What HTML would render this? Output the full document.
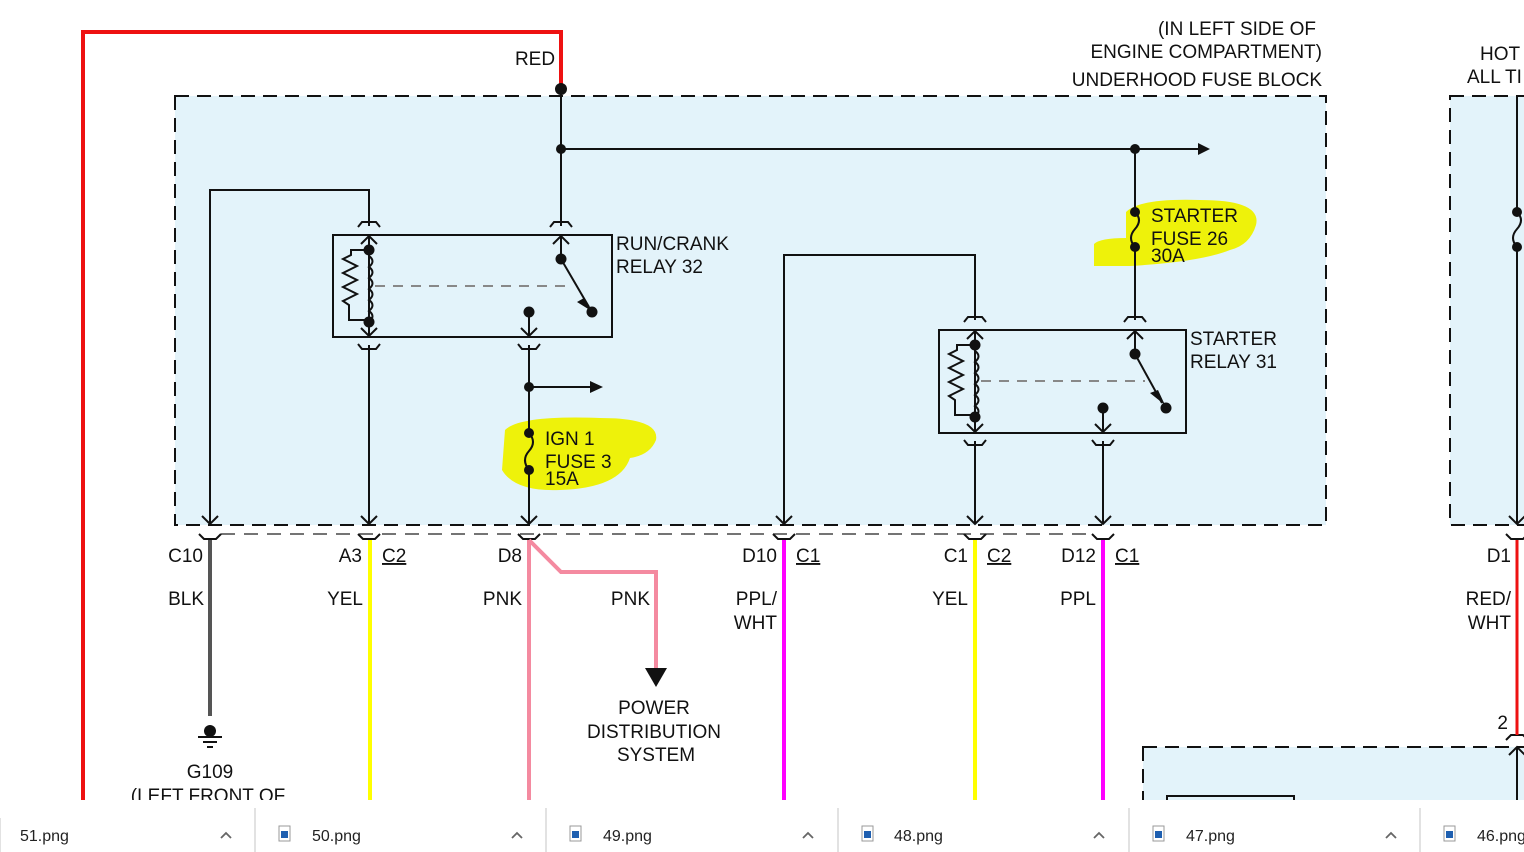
<!DOCTYPE html>
<html><head><meta charset="utf-8"><style>
html,body{margin:0;padding:0;background:#fff;width:1524px;height:852px;overflow:hidden}
svg{display:block}
text{font-family:"Liberation Sans",Arial,sans-serif;font-size:19px;fill:#111}
.tab{font-size:16px;fill:#222}
</style></head><body>
<svg width="1524" height="852" viewBox="0 0 1524 852" xmlns="http://www.w3.org/2000/svg">
<defs>
<clipPath id="cl"><rect x="0" y="0" width="1524" height="800"/></clipPath>
</defs>
<g clip-path="url(#cl)">
<rect x="175" y="96" width="1151" height="429" fill="#e3f3fa" stroke="#111" stroke-width="2" stroke-dasharray="14,8"/>
<rect x="1450" y="96" width="90" height="429" fill="#e3f3fa" stroke="#111" stroke-width="2" stroke-dasharray="14,8"/>
<rect x="1143" y="747" width="400" height="80" fill="#e3f3fa" stroke="#111" stroke-width="2" stroke-dasharray="14,8"/>
<rect x="1167" y="796" width="127" height="30" fill="none" stroke="#111" stroke-width="2"/>

<path d="M505,430 Q520,415 600,418 Q660,418 656,440 Q650,455 630,458 Q620,488 560,490 Q515,492 502,470 Z" fill="#eef20a"/>
<path d="M1126,212 Q1140,198 1200,200 Q1262,200 1256,225 Q1250,245 1230,250 Q1200,262 1130,266 L1094,266 L1094,244 Q1100,238 1126,238 Z" fill="#eef20a"/>

<polyline points="83,800 83,32 561,32 561,89" fill="none" stroke="#ee1111" stroke-width="4"/>
<g stroke="#111" stroke-width="2" fill="none">
<line x1="561" y1="89" x2="561" y2="226"/>
<line x1="561" y1="149" x2="1200" y2="149"/>
<line x1="1135" y1="149" x2="1135" y2="212"/>
<path d="M1135,212 q8,8 0,17 q-8,9 0,18"/>
<line x1="1135" y1="247" x2="1135" y2="320"/>
<polyline points="210,524 210,190 369,190 369,226"/>
<line x1="369" y1="345" x2="369" y2="524"/>
<line x1="529" y1="345" x2="529" y2="433"/>
<path d="M529,433 q8,9 0,18 q-8,9 0,19"/>
<line x1="529" y1="470" x2="529" y2="524"/>
<line x1="529" y1="387" x2="595" y2="387"/>
<polyline points="784,524 784,255 975,255 975,320"/>
<line x1="975" y1="441" x2="975" y2="524"/>
<line x1="1103" y1="441" x2="1103" y2="524"/>
<line x1="1517" y1="96" x2="1517" y2="212"/>
<path d="M1517,212 q8,8 0,17 q-8,9 0,18"/>
<line x1="1517" y1="247" x2="1517" y2="524"/>
<line x1="1517" y1="747" x2="1517" y2="800"/>

<rect x="333" y="235" width="279" height="102"/>
<rect x="939" y="330" width="247" height="103"/>

<path d="M358,227 l4,-5 h14 l4,5 M550,227 l4,-5 h14 l4,5 M964,322 l4,-5 h14 l4,5 M1124,322 l4,-5 h14 l4,5"/>
<path d="M358,344 l4,5 h14 l4,-5 M518,344 l4,5 h14 l4,-5 M964,440 l4,5 h14 l4,-5 M1092,440 l4,5 h14 l4,-5"/>
<line x1="369" y1="236" x2="369" y2="336"/>
<path d="M361,244 l8,-8 l8,8 M361,328 l8,8 l8,-8"/>
<path d="M369,250 h-18 v5 l-8,4 l14,7 l-14,7 l14,7 l-14,7 l14,7 l-14,7 l6,4 v15 h20"/>
<path d="M369,256 q7,5 0,11 q7,5 0,11 q7,5 0,11 q7,5 0,11 q7,5 0,11 q7,5 0,11"/>
<line x1="561" y1="236" x2="561" y2="259"/>
<path d="M553,244 l8,-8 l8,8"/>
<line x1="561" y1="259" x2="589" y2="307"/>
<line x1="529" y1="312" x2="529" y2="336"/>
<path d="M521,328 l8,8 l8,-8"/>
<line x1="375" y1="286" x2="570" y2="286" stroke="#888" stroke-dasharray="10,8"/>
<line x1="975" y1="331" x2="975" y2="432"/>
<path d="M967,339 l8,-8 l8,8 M967,424 l8,8 l8,-8"/>
<path d="M975,345 h-18 v5 l-8,4 l14,7 l-14,7 l14,7 l-14,7 l14,7 l-14,7 l6,4 v15 h20"/>
<path d="M975,351 q7,5 0,11 q7,5 0,11 q7,5 0,11 q7,5 0,11 q7,5 0,11 q7,5 0,11"/>
<line x1="1135" y1="331" x2="1135" y2="354"/>
<path d="M1127,339 l8,-8 l8,8"/>
<line x1="1135" y1="354" x2="1162" y2="403"/>
<line x1="1103" y1="408" x2="1103" y2="432"/>
<path d="M1095,424 l8,8 l8,-8"/>
<line x1="981" y1="381" x2="1145" y2="381" stroke="#888" stroke-dasharray="10,8"/>

<path d="M202,516 l8,8 l8,-8 M361,516 l8,8 l8,-8 M521,516 l8,8 l8,-8 M776,516 l8,8 l8,-8 M967,516 l8,8 l8,-8 M1095,516 l8,8 l8,-8 M1509,516 l8,8 l8,-8"/>
<path d="M199,534 l5,5 h12 l5,-5 M358,534 l5,5 h12 l5,-5 M518,534 l5,5 h12 l5,-5 M773,534 l5,5 h12 l5,-5 M964,534 l5,5 h12 l5,-5 M1092,534 l5,5 h12 l5,-5 M1506,534 l5,5 h12 l5,-5"/>
<line x1="221" y1="534" x2="1092" y2="534" stroke="#222" stroke-width="1.3" stroke-dasharray="14,9"/>
<path d="M1506,740 l5,-5 h12 l5,5"/>
<path d="M1509,755 l8,-8 l8,8"/>
</g>
<path d="M1198,143 L1210,149 L1198,155 Z M590,381 L603,387 L590,393 Z" fill="#111"/>
<path d="M577,302 L593,312 L584,298 Z M1150,393 L1165,405 L1158,390 Z" fill="#111"/>
<g fill="#111">
<circle cx="561" cy="89" r="6"/><circle cx="561" cy="149" r="5"/><circle cx="1135" cy="149" r="5"/>
<circle cx="1135" cy="212" r="5"/><circle cx="1135" cy="247" r="5"/>
<circle cx="529" cy="387" r="5"/><circle cx="529" cy="433" r="5"/><circle cx="529" cy="470" r="5"/>
<circle cx="1517" cy="212" r="5"/><circle cx="1517" cy="247" r="5"/>
<circle cx="369" cy="250" r="5.5"/><circle cx="369" cy="322" r="5.5"/><circle cx="561" cy="259" r="5.5"/><circle cx="592" cy="312" r="5.5"/><circle cx="529" cy="312" r="5.5"/>
<circle cx="975" cy="345" r="5.5"/><circle cx="975" cy="417" r="5.5"/><circle cx="1135" cy="354" r="5.5"/><circle cx="1166" cy="408" r="5.5"/><circle cx="1103" cy="408" r="5.5"/>
</g>
<line x1="210" y1="540" x2="210" y2="716" stroke="#555" stroke-width="4"/>
<line x1="370" y1="540" x2="370" y2="800" stroke="#ffff00" stroke-width="4"/>
<line x1="529" y1="540" x2="529" y2="800" stroke="#f48aa0" stroke-width="4"/>
<polyline points="529,540 561,572 656,572 656,672" fill="none" stroke="#f48aa0" stroke-width="4"/>
<path d="M645,668 L667,668 L656,687 Z" fill="#111"/>
<line x1="784" y1="540" x2="784" y2="800" stroke="#ff00ff" stroke-width="4"/>
<line x1="975" y1="540" x2="975" y2="800" stroke="#ffff00" stroke-width="4"/>
<line x1="1103" y1="540" x2="1103" y2="800" stroke="#ff00ff" stroke-width="4"/>
<line x1="1517" y1="540" x2="1517" y2="735" stroke="#ee1111" stroke-width="3"/>
<circle cx="210" cy="731" r="6" fill="#111"/>
<g stroke="#111" stroke-width="2"><line x1="198" y1="737" x2="222" y2="737"/><line x1="203" y1="742" x2="217" y2="742"/><line x1="207" y1="747" x2="213" y2="747"/></g>

<text x="535" y="65" text-anchor="middle">RED</text>
<text x="1316" y="35" text-anchor="end">(IN LEFT SIDE OF</text>
<text x="1322" y="58" text-anchor="end">ENGINE COMPARTMENT)</text>
<text x="1322" y="86" text-anchor="end">UNDERHOOD FUSE BLOCK</text>
<text x="1480" y="60">HOT</text>
<text x="1467" y="83">ALL TI</text>
<text x="616" y="250">RUN/CRANK</text>
<text x="616" y="273">RELAY 32</text>
<text x="1190" y="345">STARTER</text>
<text x="1190" y="368">RELAY 31</text>
<text x="1151" y="222">STARTER</text>
<text x="1151" y="245">FUSE 26</text>
<text x="1151" y="262">30A</text>
<text x="545" y="445">IGN 1</text>
<text x="545" y="468">FUSE 3</text>
<text x="545" y="485">15A</text>
<text x="203" y="562" text-anchor="end">C10</text>
<text x="362" y="562" text-anchor="end">A3</text>
<text x="382" y="562" text-decoration="underline">C2</text>
<text x="522" y="562" text-anchor="end">D8</text>
<text x="777" y="562" text-anchor="end">D10</text>
<text x="796" y="562" text-decoration="underline">C1</text>
<text x="968" y="562" text-anchor="end">C1</text>
<text x="987" y="562" text-decoration="underline">C2</text>
<text x="1096" y="562" text-anchor="end">D12</text>
<text x="1115" y="562" text-decoration="underline">C1</text>
<text x="1511" y="562" text-anchor="end">D1</text>
<text x="204" y="605" text-anchor="end">BLK</text>
<text x="363" y="605" text-anchor="end">YEL</text>
<text x="522" y="605" text-anchor="end">PNK</text>
<text x="650" y="605" text-anchor="end">PNK</text>
<text x="777" y="605" text-anchor="end">PPL/</text>
<text x="777" y="629" text-anchor="end">WHT</text>
<text x="968" y="605" text-anchor="end">YEL</text>
<text x="1096" y="605" text-anchor="end">PPL</text>
<text x="1511" y="605" text-anchor="end">RED/</text>
<text x="1511" y="629" text-anchor="end">WHT</text>
<text x="1508" y="729" text-anchor="end">2</text>
<text x="654" y="714" text-anchor="middle">POWER</text>
<text x="654" y="738" text-anchor="middle">DISTRIBUTION</text>
<text x="656" y="761" text-anchor="middle">SYSTEM</text>
<text x="210" y="778" text-anchor="middle">G109</text>
<text x="208" y="802" text-anchor="middle">(LEFT FRONT OF</text>
</g>

<rect x="0" y="800" width="1524" height="52" fill="#fff"/>
<g stroke="#d8d8d8" stroke-width="1.5">
<line x1="0" y1="818" x2="0" y2="852"/><line x1="255" y1="808" x2="255" y2="852"/><line x1="546" y1="808" x2="546" y2="852"/><line x1="838" y1="808" x2="838" y2="852"/><line x1="1129" y1="808" x2="1129" y2="852"/><line x1="1420" y1="808" x2="1420" y2="852"/>
</g>
<g>
<g transform="translate(279,826)"><rect x="0" y="0" width="11" height="15" fill="#fff" stroke="#999"/><rect x="2" y="5" width="7" height="7" fill="#1e5fb0"/></g>
<g transform="translate(570,826)"><rect x="0" y="0" width="11" height="15" fill="#fff" stroke="#999"/><rect x="2" y="5" width="7" height="7" fill="#1e5fb0"/></g>
<g transform="translate(862,826)"><rect x="0" y="0" width="11" height="15" fill="#fff" stroke="#999"/><rect x="2" y="5" width="7" height="7" fill="#1e5fb0"/></g>
<g transform="translate(1153,826)"><rect x="0" y="0" width="11" height="15" fill="#fff" stroke="#999"/><rect x="2" y="5" width="7" height="7" fill="#1e5fb0"/></g>
<g transform="translate(1444,826)"><rect x="0" y="0" width="11" height="15" fill="#fff" stroke="#999"/><rect x="2" y="5" width="7" height="7" fill="#1e5fb0"/></g>
</g>
<text class="tab" x="20" y="841">51.png</text>
<text class="tab" x="312" y="841">50.png</text>
<text class="tab" x="603" y="841">49.png</text>
<text class="tab" x="894" y="841">48.png</text>
<text class="tab" x="1186" y="841">47.png</text>
<text class="tab" x="1477" y="841">46.png</text>
<g fill="none" stroke="#666" stroke-width="1.8">
<path d="M221,838 l5,-5 l5,5 M512,838 l5,-5 l5,5 M803,838 l5,-5 l5,5 M1094,838 l5,-5 l5,5 M1386,838 l5,-5 l5,5"/>
</g>
</svg>
</body></html>
